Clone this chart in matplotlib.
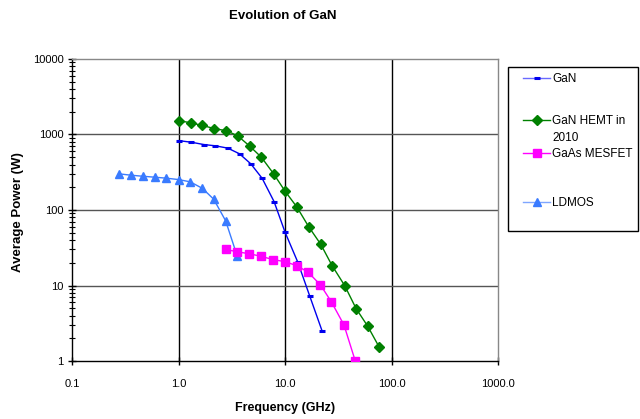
import matplotlib
matplotlib.use("Agg")
import matplotlib.pyplot as plt
from matplotlib.lines import Line2D
from matplotlib.patches import Rectangle
from matplotlib.ticker import FixedLocator, NullFormatter, LogLocator

plt.rcParams['font.family'] = ['Liberation Sans', 'DejaVu Sans']

gan_f = [1.0, 1.32, 1.73, 2.22, 2.9, 3.74, 4.78, 6.1, 7.9, 10.0, 13.2, 17.1, 22.3]
gan_p = [830, 790, 736, 708, 660, 555, 408, 263, 129, 51, 20.3, 7.2, 2.5]

hemt_f = [1.0, 1.3, 1.68, 2.16, 2.82, 3.6, 4.67, 6.0, 7.8, 10.0, 12.9, 16.7, 21.7, 27.7, 36.3, 46.5, 59.7, 76.8]
hemt_p = [1530, 1430, 1316, 1200, 1120, 960, 700, 500, 303, 178, 110, 60, 35, 18.3, 10, 4.95, 2.9, 1.52]

gaas_f = [2.78, 3.55, 4.64, 5.93, 7.75, 10.0, 12.9, 16.4, 21.5, 27.3, 35.8, 45.7]
gaas_p = [30, 28, 26.3, 24.4, 22, 20.7, 18.3, 15.1, 10.2, 6.05, 3.0, 1.0]

ldmos_f = [0.278, 0.358, 0.461, 0.597, 0.767, 1.0, 1.29, 1.68, 2.14, 2.77, 3.56]
ldmos_p = [301, 289, 280, 272, 264, 253, 236, 193, 139, 72, 24.5]

x_ticks = [0.1, 1, 10, 100, 1000]
x_labels = ["0.1", "1.0", "10.0", "100.0", "1000.0"]
y_ticks = [1, 10, 100, 1000, 10000]
y_labels = ["1", "10", "100", "1000", "10000"]

labels = ["GaN", "GaN HEMT in\n2010", "GaAs MESFET", "LDMOS"]
colors = ["#0000ee", "#008000", "#ff00ff", "#3a7bff"]
legend_line_colors = ["#6a6aff", "#008000", "#ff00ff", "#7fa6ff"]

fig = plt.figure(figsize=(6.4, 4.19), dpi=100)
ax = fig.add_axes([72/640, 1-361/419, (498-72)/640, (361-59)/419])

ax.set_xscale('log')
ax.set_yscale('log')
ax.set_xlim(0.1, 1000)
ax.set_ylim(1, 10000)

ax.plot(gan_f, gan_p, color=colors[0], lw=1, marker='_', ms=4, mew=2.2, zorder=5)
ax.plot(hemt_f, hemt_p, color=colors[1], lw=1, marker='D', ms=5.5, zorder=5)
ax.plot(gaas_f, gaas_p, color=colors[2], lw=1, marker='s', ms=5.5, zorder=5)
ax.plot(ldmos_f, ldmos_p, color=colors[3], lw=1, marker='^', ms=6, zorder=4)

ax.xaxis.set_major_locator(FixedLocator(x_ticks))
ax.set_xticklabels(x_labels)
ax.xaxis.set_minor_locator(FixedLocator([]))
ax.yaxis.set_major_locator(FixedLocator(y_ticks))
ax.set_yticklabels(y_labels)
ax.yaxis.set_minor_locator(LogLocator(base=10, subs=range(2, 10)))
ax.yaxis.set_minor_formatter(NullFormatter())

ax.tick_params(axis='both', which='major', direction='inout', length=6, width=1, labelsize=8, colors='black')
ax.tick_params(axis='y', which='minor', direction='inout', length=4, width=0.8)
ax.tick_params(axis='x', pad=10)
ax.tick_params(axis='y', pad=3)

for v in [1, 10, 100]:
    ax.axvline(v, color='black', lw=1, zorder=1)
for v in [10, 100, 1000]:
    ax.axhline(v, color='#555555', lw=1, zorder=1)

ax.spines['top'].set_color('#888888')
ax.spines['right'].set_color('#888888')
ax.spines['left'].set_color('black')
ax.spines['bottom'].set_color('black')
for sp in ax.spines.values():
    sp.set_linewidth(1)

fig.text(283/640, 1-16/419, "Evolution of GaN", ha='center', va='center', fontsize=9.5, fontweight='bold')
fig.text(285/640, 1-408/419, "Frequency (GHz)", ha='center', va='center', fontsize=9, fontweight='bold')
fig.text(18/640, 1-212/419, "Average Power (W)", ha='center', va='center', rotation=90, fontsize=9.5, fontweight='bold')

# legend box
fig.add_artist(Rectangle((508/640, 1-231/419), (638-508)/640, (231-67)/419,
                         transform=fig.transFigure, fill=False, edgecolor='black', lw=1))
leg_y = [78, 120, 153, 202]
markers = [('_', 4, 2.2), ('D', 5.5, 1), ('s', 5.5, 1), ('^', 6, 1)]
for lab, col, lcol, yy, (mk, ms, mew) in zip(labels, colors, legend_line_colors, leg_y, markers):
    fig.add_artist(Line2D([523/640, 550/640], [1-yy/419, 1-yy/419], transform=fig.transFigure,
                          color=lcol, lw=1))
    fig.add_artist(Line2D([536.5/640], [1-yy/419], transform=fig.transFigure,
                          color=col, marker=mk, ms=ms, mew=mew, lw=0))
    fig.text(552/640, 1-(yy-5)/419, lab, ha='left', va='top', fontsize=8.5, linespacing=1.55)

fig.savefig("out.png", dpi=100)
